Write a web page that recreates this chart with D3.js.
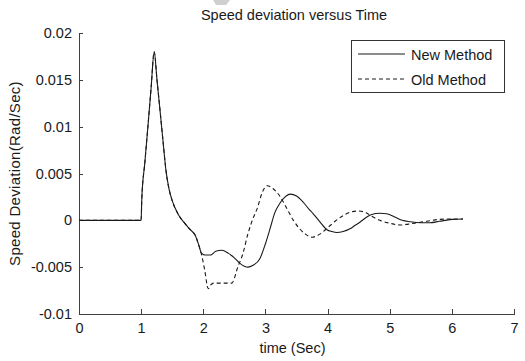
<!DOCTYPE html>
<html>
<head>
<meta charset="utf-8">
<script src="https://cdn.jsdelivr.net/npm/d3@7"></script>
<style>
    body { margin: 0; background: #fff; }
    text { font-family: "Liberation Sans", Arial, sans-serif; fill: #1a1a1a; }
    .axis path, .axis line { stroke: #404040; stroke-width: 1; shape-rendering: crispEdges; }
    .axis text { font-size: 14.5px; }
</style>
</head>
<body>
<div class="chart"></div>
<script>
    // values
    const newTime  = [0, 1.0, 1.01, 1.06, 1.11, 1.16, 1.21, 1.255, 1.30, 1.35, 1.40, 1.45, 1.50, 1.60, 1.70, 1.79, 1.87, 1.93, 1.97,
                      2.03, 2.12, 2.20, 2.30, 2.40, 2.50, 2.59, 2.66, 2.72, 2.80, 2.91, 3.00, 3.07, 3.15, 3.23, 3.30, 3.40, 3.50,
                      3.60, 3.70, 3.77, 3.88, 3.99, 4.07, 4.15, 4.25, 4.36, 4.45, 4.52, 4.62, 4.70, 4.84, 4.95, 5.10, 5.20, 5.33,
                      5.50, 5.65, 5.80, 6.00, 6.18]
    const newSpeed = [0, 0, 0.0022, 0.0062, 0.0101, 0.0141, 0.0180, 0.0150, 0.0120, 0.0086, 0.0053, 0.0033, 0.0021, 0.0006, -0.0003,
                      -0.0010, -0.0016, -0.0027, -0.0035, -0.0037, -0.0037, -0.0033, -0.0032, -0.0035, -0.0040, -0.0046, -0.0049,
                      -0.0050, -0.0048, -0.0041, -0.0025, -0.0010, 0.0008, 0.0018, 0.0024, 0.0028, 0.0026, 0.0020, 0.0012, 0.0007,
                      -0.0002, -0.0010, -0.0012, -0.0013, -0.0012, -0.0009, -0.0005, -0.0002, 0.0003, 0.0006, 0.00075, 0.0007,
                      0.0003, 0.0, -0.00015, -0.00025, -0.00025, -0.0001, 0.0001, 0.00015]

    const oldTime  = [0, 1.0, 1.01, 1.06, 1.11, 1.16, 1.21, 1.255, 1.30, 1.35, 1.40, 1.45, 1.50, 1.60, 1.70, 1.79, 1.87, 1.93, 1.97,
                      2.02, 2.08, 2.12, 2.16, 2.30, 2.46, 2.50, 2.54, 2.64, 2.72, 2.80, 2.87, 2.95, 3.03, 3.12, 3.23, 3.35, 3.45,
                      3.55, 3.65, 3.75, 3.87, 4.00, 4.12, 4.25, 4.38, 4.50, 4.62, 4.72, 4.84, 5.00, 5.17, 5.30, 5.45, 5.60, 5.80,
                      6.00, 6.18]
    const oldSpeed = [0, 0, 0.0022, 0.0062, 0.0101, 0.0141, 0.0180, 0.0150, 0.0120, 0.0086, 0.0053, 0.0033, 0.0021, 0.0006, -0.0003,
                      -0.0010, -0.0016, -0.0027, -0.0036, -0.0052, -0.0073, -0.0069, -0.0067, -0.0067, -0.0067, -0.0062, -0.0053,
                      -0.0035, -0.0014, 0.0002, 0.0013, 0.0030, 0.0037, 0.0034, 0.0026, 0.0012, 0.0, -0.0009, -0.0015, -0.0018,
                      -0.0015, -0.0008, -0.0001, 0.0005, 0.0009, 0.0010, 0.0008, 0.0004, 0.0, -0.0003, -0.0005, -0.0004, -0.00025,
                      -0.0001, 0.0001, 0.00015, 0.00015]

    const xTicks = [0, 1, 2, 3, 4, 5, 6, 7]
    const yTicks = [0.02, 0.015, 0.01, 0.005, 0, -0.005, -0.01]
    const yTickLabels = ["0.02", "0.015", "0.01", "0.005", "0", "-0.005", "-0.01"]
    const seriesNames = ["New Method", "Old Method"]

    const margin = ({top: 33, right: 11, bottom: 47, left: 79})
    const width = 525 - margin.left - margin.right,
            height = 361 - margin.top - margin.bottom;

    let root = d3.select(".chart").append("svg")
                .attr("width", 525)
                .attr("height", 361)

    // little grey mark at the top edge of the picture
    root.append("polygon")
        .attr("points", "213,0 230,0 226,5 216,5")
        .attr("fill", "#cfcfcf")

    let svg = root.append("g")
                .attr("transform", "translate(" + margin.left + "," + margin.top + ")");

    const xScale = d3.scaleLinear()
            .domain([0, 7])
            .range([0, width])

    const yScale = d3.scaleLinear()
            .domain([-0.01, 0.02])
            .range([height, 0])

    let xAxis = d3.axisBottom(xScale)
            .tickValues(xTicks)
            .tickFormat(d3.format("d"))
            .tickSizeInner(-5)
            .tickSizeOuter(0)
            .tickPadding(9)

    let yAxis = d3.axisLeft(yScale)
            .tickValues(yTicks)
            .tickFormat((d, i) => yTickLabels[i])
            .tickSizeInner(-4)
            .tickSizeOuter(0)
            .tickPadding(7)

    svg.append("g")
        .attr("class", "axis x-axis")
        .attr("transform", `translate(0, ${height})`)
        .call(xAxis);

    svg.append("g")
        .attr("class", "axis y-axis")
        .call(yAxis);

    const line = d3.line()
            .x(d => xScale(d[0]))
            .y(d => yScale(d[1]))
            .curve(d3.curveMonotoneX)

    svg.append("path")
        .datum(d3.zip(newTime, newSpeed))
        .attr("fill", "none")
        .attr("stroke", "#1a1a1a")
        .attr("stroke-width", 1.1)
        .attr("d", line)

    svg.append("path")
        .datum(d3.zip(oldTime, oldSpeed))
        .attr("fill", "none")
        .attr("stroke", "#1a1a1a")
        .attr("stroke-width", 1.1)
        .attr("stroke-dasharray", "4,3")
        .attr("d", line)

    // titles
    root.append("text")
        .attr("x", 294)
        .attr("y", 19.5)
        .attr("text-anchor", "middle")
        .style("font-size", "14.5px")
        .text("Speed deviation versus Time")

    root.append("text")
        .attr("x", margin.left + width / 2 - 4)
        .attr("y", 353)
        .attr("text-anchor", "middle")
        .style("font-size", "14.5px")
        .text("time (Sec)")

    root.append("text")
        .attr("transform", "translate(20," + (margin.top + height / 2) + ") rotate(-90)")
        .attr("text-anchor", "middle")
        .style("font-size", "15px")
        .style("letter-spacing", "0.3px")
        .text("Speed Deviation(Rad/Sec)")

    // legend
    let legend = root.append("g")
        .attr("transform", "translate(351, 40)")

    legend.append("rect")
        .attr("width", 153)
        .attr("height", 52)
        .attr("fill", "#fff")
        .attr("stroke", "#333")
        .attr("shape-rendering", "crispEdges")

    seriesNames.forEach(function (name, i) {
        legend.append("line")
            .attr("x1", 7)
            .attr("x2", 54)
            .attr("y1", 14 + i * 25)
            .attr("y2", 14 + i * 25)
            .attr("stroke", "#1a1a1a")
            .attr("stroke-width", 1.1)
            .attr("stroke-dasharray", i == 1 ? "4,3" : null)

        legend.append("text")
            .attr("x", 60)
            .attr("y", 19.5 + i * 25)
            .style("font-size", "14.5px")
            .text(name)
    })
</script>
</body>
</html>
